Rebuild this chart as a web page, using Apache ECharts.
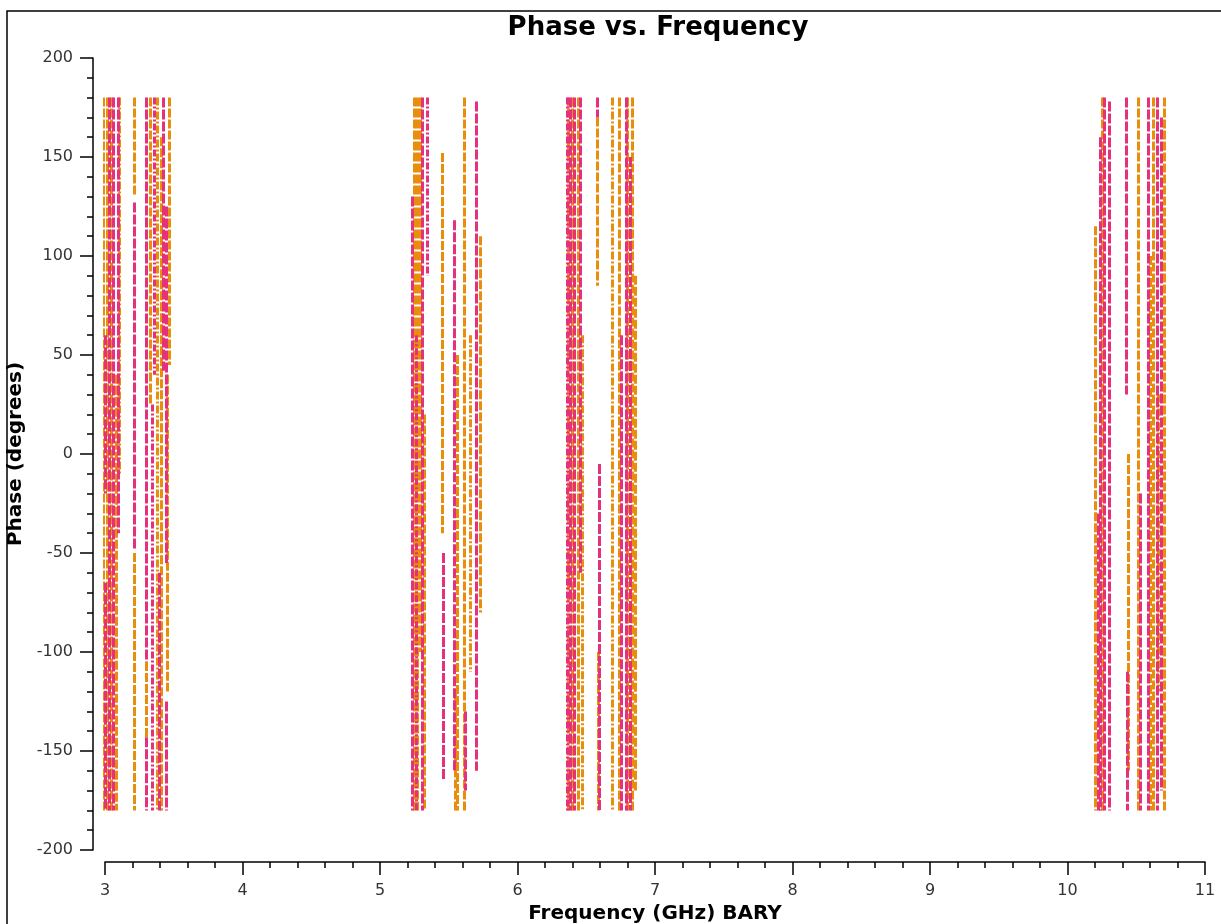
<!DOCTYPE html>
<html>
<head>
<meta charset="utf-8">
<script src="https://cdn.jsdelivr.net/npm/echarts@6/dist/echarts.min.js"></script>
<style>
html,body{margin:0;padding:0;background:#fff;}
#main{width:1221px;height:924px;}
</style>
</head>
<body>
<div id="main"></div>
<script>
// vertical runs of points per channel: [frequency GHz, phase from, phase to]
var pinkRuns = [
    [3.002, -65, -180], [3.002, 60, -20], [3.028, 180, -180], [3.060, 180, -180],
    [3.095, 180, -40], [3.210, 127, -48], [3.300, 180, -105], [3.302, -143, -180],
    [3.395, -60, -180], [3.425, 180, 42], [3.445, 125, -55], [3.448, -125, -180],
    [5.238, 130, -180], [5.305, 180, -180], [5.458, -50, -165], [5.538, 118, -160],
    [5.620, -130, -170], [5.702, 178, -160],
    [6.385, 180, -180], [6.410, 180, -180], [6.455, 180, -60], [6.578, 180, 170],
    [6.592, -5, -180], [6.752, 60, -180], [6.790, 180, -180], [6.820, 150, -180],
    [10.220, -30, -180], [10.236, 160, -180], [10.270, 180, -180], [10.300, 178, -180],
    [10.425, 180, 30], [10.432, -110, -180], [10.527, -20, -180], [10.590, 180, -180],
    [10.655, 180, -180], [10.680, 170, -170]
];
var orangeRuns = [
    [2.988, 180, -180], [3.015, 180, -180], [3.045, 180, -180], [3.082, 40, -180],
    [3.210, 180, 130], [3.210, -50, -180], [3.297, -105, -143], [3.330, 180, 25],
    [3.410, 160, -180], [3.455, 40, -120], [3.470, 180, 45],
    [5.248, 180, -180], [5.270, 180, -180], [5.290, 180, -100], [5.325, 20, -180],
    [5.451, 152, -40], [5.545, -120, -180], [5.560, 50, -180], [5.611, 180, -180],
    [5.727, 110, -80],
    [6.372, 180, -180], [6.395, 180, -180], [6.440, 180, -180], [6.580, 170, 85],
    [6.585, -100, -180], [6.740, 180, -180], [6.800, 180, -180], [6.835, 180, -180],
    [6.855, 90, -170],
    [10.205, 115, -180], [10.250, 180, -180], [10.440, 0, -160], [10.512, 180, -180],
    [10.600, 100, -180], [10.620, 180, -180], [10.700, 180, -180]
];
// runs that look dash-dot
var pinkDotRuns = [
    [3.340, 25, -180], [3.360, 180, 40], [5.260, 60, -180], [5.340, 180, 90],
    [6.360, 180, -180]
];
var orangeDotRuns = [
    [3.105, 180, -10], [3.380, 180, -180], [5.655, 60, -110], [6.470, 60, -180],
    [6.687, 180, -180], [10.660, 30, -120]
];

var pink = '#e5307b';
var orange = '#e88d0c';

function toLines(runs) {
    return runs.map(function (r) {
        return { coords: [[r[0], r[1]], [r[0], r[2]]] };
    });
}

var chart = echarts.init(document.getElementById('main'));
var fontFam = 'DejaVu Sans';
chart.setOption({
    backgroundColor: '#fff',
    animation: false,
    title: {
        text: 'Phase vs. Frequency',
        left: 653,
        top: 10,
        textAlign: 'center',
        textStyle: { fontFamily: fontFam, fontWeight: 'bold', fontSize: 26, color: '#000' }
    },
    graphic: [{
        type: 'rect',
        shape: { x: 7, y: 11, width: 1230, height: 940 },
        style: { fill: 'none', stroke: '#000', lineWidth: 1.5 },
        silent: true
    }],
    grid: { left: 105, right: 16, top: 58, bottom: 74, outerBoundsMode: 'none', containLabel: false },
    xAxis: {
        type: 'value',
        position: 'bottom',
        min: 3, max: 11, interval: 1,
        offset: 12,
        name: 'Frequency (GHz) BARY',
        nameLocation: 'middle',
        nameGap: 42,
        nameTextStyle: { fontFamily: fontFam, fontWeight: 'bold', fontSize: 20, color: '#000' },
        axisLine: { onZero: false, lineStyle: { color: '#000', width: 1.5 } },
        axisTick: { length: 13, lineStyle: { color: '#000', width: 1.5 } },
        minorTick: { show: true, splitNumber: 5, length: 6, lineStyle: { color: '#000', width: 1.5 } },
        axisLabel: { fontFamily: fontFam, fontSize: 16, color: '#333', margin: 21 },
        splitLine: { show: false }
    },
    yAxis: {
        type: 'value',
        position: 'left',
        min: -200, max: 200, interval: 50,
        offset: 12,
        name: 'Phase (degrees)',
        nameLocation: 'middle',
        nameGap: 63,
        nameTextStyle: { fontFamily: fontFam, fontWeight: 'bold', fontSize: 20, color: '#000' },
        axisLine: { show: true, onZero: false, lineStyle: { color: '#000', width: 1.5 } },
        axisTick: { show: true, length: 13, lineStyle: { color: '#000', width: 1.5 } },
        minorTick: { show: true, splitNumber: 5, length: 6, lineStyle: { color: '#000', width: 1.5 } },
        axisLabel: { fontFamily: fontFam, fontSize: 16, color: '#333', margin: 20 },
        splitLine: { show: false }
    },
    series: [
        {
            type: 'lines', coordinateSystem: 'cartesian2d', polyline: false,
            data: toLines(orangeRuns),
            lineStyle: { color: orange, width: 3, opacity: 1, type: [9, 2] }
        },
        {
            type: 'lines', coordinateSystem: 'cartesian2d', polyline: false,
            data: toLines(orangeDotRuns),
            lineStyle: { color: orange, width: 3, opacity: 1, type: [8, 2, 2, 2] }
        },
        {
            type: 'lines', coordinateSystem: 'cartesian2d', polyline: false,
            data: toLines(pinkRuns),
            lineStyle: { color: pink, width: 3, opacity: 1, type: [10, 2] }
        },
        {
            type: 'lines', coordinateSystem: 'cartesian2d', polyline: false,
            data: toLines(pinkDotRuns),
            lineStyle: { color: pink, width: 3, opacity: 1, type: [7, 2, 2, 2] }
        }
    ]
});
</script>
</body>
</html>
